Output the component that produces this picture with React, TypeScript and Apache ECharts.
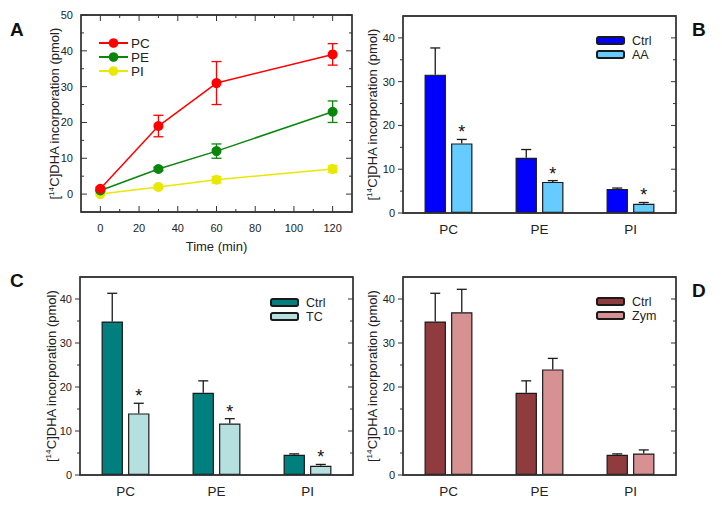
import React, { useEffect, useRef } from "react";
import * as echarts from "echarts";

// ---------- Panel A data ----------
const timePoints = [0, 30, 60, 120];
const pcMean = [1.5, 19, 31, 39];
const pcErr = [0.4, 3, 6, 3];
const peMean = [1, 7, 12, 23];
const peErr = [0.3, 0.5, 2, 3];
const piMean = [0, 2, 4, 7];
const piErr = [0.3, 0.5, 0.9, 1];
const timeTicks = [0, 20, 40, 60, 80, 100, 120];
const timeMinorTicks = [10, 30, 50, 70, 90, 110];
const yTicksA = [0, 10, 20, 30, 40, 50];
const yMinorTicksA = [5, 15, 25, 35, 45];

// ---------- Bar panels data ----------
const categories = ["PC", "PE", "PI"];
const barTicks = [0, 10, 20, 30, 40];
const barMinorTicks = [5, 15, 25, 35];

const bCtrl = [31.6, 12.6, 5.5];
const bCtrlTop = [37.7, 14.5, 5.7];
const bAA = [15.9, 7.1, 2.1];
const bAATop = [16.8, 7.4, 2.4];
const bStars = [1, 1, 1];

const cCtrl = [34.9, 18.7, 4.6];
const cCtrlTop = [41.3, 21.4, 4.8];
const cTC = [14.0, 11.7, 2.1];
const cTCTop = [16.3, 12.8, 2.4];
const cStars = [1, 1, 1];

const dCtrl = [34.9, 18.7, 4.6];
const dCtrlTop = [41.3, 21.4, 4.8];
const dZym = [37.0, 24.0, 4.9];
const dZymTop = [42.2, 26.5, 5.7];
const dStars = [0, 0, 0];

const FONT = "'Liberation Sans', Arial, sans-serif";
const TXT = "#222";
const FRAME = "#333333";
const BAR_FRAC = 0.235;
const GAP_FRAC = 0.24;
const PW = 361;
const PH = 254;

const yName = "[{sup|14}C]DHA incorporation (pmol)";
const yNameStyle = {
  fontFamily: FONT,
  fontSize: 13,
  color: TXT,
  rich: {
    sup: { fontSize: 8, fontFamily: FONT, color: TXT, padding: [0, 0, 6, 0] },
  },
};

function gridOpt(g: any) {
  return {
    ...g,
    outerBoundsMode: "none",
    containLabel: false,
    show: true,
    borderColor: FRAME,
    borderWidth: 1.3,
    backgroundColor: "transparent",
  };
}

function labelAxis(min: number, max: number, values: number[], margin: number, extra: any = {}) {
  return {
    type: "value",
    min,
    max,
    axisLine: { show: false, onZero: false },
    splitLine: { show: false },
    axisTick: { show: false },
    axisLabel: {
      show: true,
      customValues: values,
      fontFamily: FONT,
      fontSize: 11,
      color: TXT,
      margin,
    },
    ...extra,
  };
}

// Frame and tick marks, positioned through the chart's own scales (convertToPixel)
function frameGraphics(chart: any, grid: any, cfg: any) {
  const x0 = grid.left;
  const y0 = grid.top;
  const x1 = PW - grid.right;
  const y1 = PH - grid.bottom;
  const els: any[] = [
    {
      type: "rect",
      shape: { x: x0, y: y0, width: x1 - x0, height: y1 - y0 },
      style: { fill: "none", stroke: FRAME, lineWidth: 1.3 },
      z: 100,
      silent: true,
    },
  ];
  const st = { stroke: FRAME, lineWidth: 1 };
  const line = (a: number, b: number, c: number, d: number) =>
    els.push({ type: "line", shape: { x1: a, y1: b, x2: c, y2: d }, style: st, z: 100, silent: true });
  const addX = (vals: number[], len: number) =>
    vals.forEach((v) => {
      const px = chart.convertToPixel({ xAxisIndex: 0 }, v);
      line(px, y1, px, y1 - len);
      line(px, y0, px, y0 + len);
    });
  const addY = (vals: number[], len: number) =>
    vals.forEach((v) => {
      const py = chart.convertToPixel({ yAxisIndex: 0 }, v);
      line(x0, py, cfg.leftOutside ? x0 - len : x0 + len, py);
      line(x1, py, x1 - len, py);
    });
  addX(cfg.xMajor, 6);
  addX(cfg.xMinor, 3);
  addY(cfg.yMajor, cfg.leftOutside ? 5 : 6);
  addY(cfg.yMinor, 3);
  return els;
}

function lineErrRender(color: string) {
  return (params: any, api: any) => {
    const x = api.value(0);
    const lo = api.value(1);
    const hi = api.value(2);
    const pHi = api.coord([x, hi]);
    const pLo = api.coord([x, lo]);
    const hw = 5;
    const st = { stroke: color, lineWidth: 1.3 };
    return {
      type: "group",
      children: [
        { type: "line", shape: { x1: pHi[0], y1: pHi[1], x2: pLo[0], y2: pLo[1] }, style: st },
        { type: "line", shape: { x1: pHi[0] - hw, y1: pHi[1], x2: pHi[0] + hw, y2: pHi[1] }, style: st },
        { type: "line", shape: { x1: pLo[0] - hw, y1: pLo[1], x2: pLo[0] + hw, y2: pLo[1] }, style: st },
      ],
    };
  };
}

const gridA = { left: 81, right: 9, top: 15, bottom: 42 };

function buildA() {
  const groups = [
    { name: "PC", mean: pcMean, err: pcErr, color: "#ff0000" },
    { name: "PE", mean: peMean, err: peErr, color: "#0a870a" },
    { name: "PI", mean: piMean, err: piErr, color: "#e8e800" },
  ];
  const series: any[] = [];
  groups.forEach((g) => {
    series.push({
      type: "custom",
      name: g.name + "-err",
      renderItem: lineErrRender(g.color),
      data: timePoints.map((t, i) => [t, g.mean[i] - g.err[i], g.mean[i] + g.err[i]]),
      encode: { x: 0, y: [1, 2] },
      z: 2,
      silent: true,
    });
  });
  groups.forEach((g, k) => {
    series.push({
      type: "line",
      name: g.name,
      data: timePoints.map((t, i) => [t, g.mean[i]]),
      symbol: "circle",
      symbolSize: 10,
      lineStyle: { color: g.color, width: 1.5 },
      itemStyle: { color: g.color },
      z: 3 + (2 - k),
    });
  });
  return {
    animation: false,
    grid: gridOpt(gridA),
    xAxis: labelAxis(-10, 130, timeTicks, 10, {
      position: "bottom",
      name: "Time (min)",
      nameLocation: "middle",
      nameGap: 28,
      nameTextStyle: { fontFamily: FONT, fontSize: 13, color: TXT },
    }),
    yAxis: labelAxis(-5, 50, yTicksA, 8, {
      position: "left",
      name: yName,
      nameLocation: "middle",
      nameGap: 20,
      nameMoveOverlap: false,
      nameTextStyle: yNameStyle,
    }),
    legend: {
      data: ["PC", "PE", "PI"],
      orient: "vertical",
      left: 98,
      top: 36,
      padding: 0,
      itemWidth: 29,
      itemHeight: 12,
      itemGap: 0,
      textStyle: { fontFamily: FONT, fontSize: 13.5, color: TXT, padding: [0, 0, 0, -2] },
    },
    series,
  };
}

function barErrRender(sign: number) {
  return (params: any, api: any) => {
    const ci = api.value(0);
    const v = api.value(1);
    const top = api.value(2);
    const star = api.value(3);
    const band = api.size([1, 0])[0];
    const w = band * BAR_FRAC;
    const off = (sign * (w + w * GAP_FRAC)) / 2;
    const pv = api.coord([ci, v]);
    const pt = api.coord([ci, top]);
    const x = pv[0] + off;
    const hw = 5;
    const st = { stroke: "#1a1a1a", lineWidth: 1.3 };
    const children: any[] = [
      { type: "line", shape: { x1: x, y1: pv[1], x2: x, y2: pt[1] }, style: st },
      { type: "line", shape: { x1: x - hw, y1: pt[1], x2: x + hw, y2: pt[1] }, style: st },
    ];
    if (star) {
      children.push({
        type: "text",
        x: x,
        y: pt[1] + 2,
        style: {
          text: "*",
          fontFamily: FONT,
          fontSize: 18,
          fill: "#111",
          align: "center",
          verticalAlign: "bottom",
        },
      });
    }
    return { type: "group", children };
  };
}

function buildBar(cfg: any) {
  const { grid, ctrl, ctrlTop, trt, trtTop, stars, names, colors, legendPos, nameGap } = cfg;
  const mk = (vals: number[], tops: number[], st: number[] | null) =>
    categories.map((c, i) => [i, vals[i], tops[i], st ? st[i] : 0]);
  return {
    animation: false,
    grid: gridOpt(grid),
    xAxis: {
      type: "category",
      data: categories,
      position: "bottom",
      axisLine: { show: false, onZero: false },
      axisTick: { show: false },
      axisLabel: { fontFamily: FONT, fontSize: 13.5, color: TXT, margin: 9 },
      splitLine: { show: false },
    },
    yAxis: labelAxis(0, 45, barTicks, 8, {
      position: "left",
      name: yName,
      nameLocation: "middle",
      nameGap,
      nameMoveOverlap: false,
      nameTextStyle: yNameStyle,
    }),
    legend: {
      data: names,
      orient: "vertical",
      left: legendPos[0],
      top: legendPos[1],
      padding: 0,
      itemWidth: 27,
      itemHeight: 7,
      itemGap: 1,
      textStyle: { fontFamily: FONT, fontSize: 12.5, color: TXT, padding: [0, 0, 0, 3] },
    },
    series: [
      {
        type: "bar",
        name: names[0],
        data: ctrl,
        barWidth: BAR_FRAC * 100 + "%",
        barGap: GAP_FRAC * 100 + "%",
        itemStyle: { color: colors[0], borderColor: "#1a1a1a", borderWidth: 1.2 },
        z: 2,
      },
      {
        type: "bar",
        name: names[1],
        data: trt,
        barWidth: BAR_FRAC * 100 + "%",
        barGap: GAP_FRAC * 100 + "%",
        itemStyle: { color: colors[1], borderColor: "#1a1a1a", borderWidth: 1.2 },
        z: 2,
      },
      {
        type: "custom",
        renderItem: barErrRender(-1),
        data: mk(ctrl, ctrlTop, null),
        encode: { x: 0, y: [1, 2] },
        z: 3,
        silent: true,
      },
      {
        type: "custom",
        renderItem: barErrRender(1),
        data: mk(trt, trtTop, stars),
        encode: { x: 0, y: [1, 2] },
        z: 3,
        silent: true,
      },
    ],
  };
}

function Panel({
  left,
  top,
  build,
  grid,
  ticks,
  letter,
}: {
  left: number;
  top: number;
  build: () => any;
  grid: any;
  ticks: any;
  letter: any;
}) {
  const ref = useRef<HTMLDivElement>(null);
  useEffect(() => {
    if (!ref.current) return;
    const chart = echarts.init(ref.current, undefined, { renderer: "svg" });
    chart.setOption(build());
    const els = frameGraphics(chart, grid, ticks);
    els.push({
      type: "text",
      left: letter.x,
      top: letter.y,
      z: 100,
      style: { text: letter.t, fontFamily: FONT, fontSize: 19, fontWeight: "bold", fill: "#111" },
    });
    chart.setOption({ graphic: els });
    return () => chart.dispose();
  }, []);
  return <div ref={ref} style={{ position: "absolute", left, top, width: PW, height: PH }} />;
}

const gridB = { left: 42, right: 46, top: 16, bottom: 41 };
const gridC = { left: 80, right: 8, top: 23, bottom: 33 };
const gridD = { left: 42, right: 46, top: 23, bottom: 33 };
const tickCfgA = { xMajor: timeTicks, xMinor: timeMinorTicks, yMajor: yTicksA, yMinor: yMinorTicksA, leftOutside: false };
const tickCfgB = { xMajor: [], xMinor: [], yMajor: barTicks, yMinor: barMinorTicks, leftOutside: true };
const tickCfgC = { xMajor: [], xMinor: [], yMajor: barTicks, yMinor: barMinorTicks, leftOutside: true };
const tickCfgD = { xMajor: [], xMinor: [], yMajor: barTicks, yMinor: barMinorTicks, leftOutside: true };

export default function App() {
  return (
    <div
      style={{
        position: "absolute",
        left: 0,
        top: 0,
        width: 722,
        height: 508,
        background: "#ffffff",
        overflow: "hidden",
      }}
    >
      <Panel left={0} top={0} build={buildA} grid={gridA} ticks={tickCfgA} letter={{ t: "A", x: 10, y: 20 }} />
      <Panel
        left={361}
        top={0}
        grid={gridB}
        ticks={tickCfgB}
        letter={{ t: "B", x: 331, y: 20 }}
        build={() =>
          buildBar({
            grid: gridB,
            ctrl: bCtrl,
            ctrlTop: bCtrlTop,
            trt: bAA,
            trtTop: bAATop,
            stars: bStars,
            names: ["Ctrl", "AA"],
            colors: ["#0000ff", "#66ccff"],
            legendPos: [235, 34],
            nameGap: 24,
          })
        }
      />
      <Panel
        left={0}
        top={254}
        grid={gridC}
        ticks={tickCfgC}
        letter={{ t: "C", x: 10, y: 17 }}
        build={() =>
          buildBar({
            grid: gridC,
            ctrl: cCtrl,
            ctrlTop: cCtrlTop,
            trt: cTC,
            trtTop: cTCTop,
            stars: cStars,
            names: ["Ctrl", "TC"],
            colors: ["#007f7f", "#b6e0e0"],
            legendPos: [270, 42],
            nameGap: 22,
          })
        }
      />
      <Panel
        left={361}
        top={254}
        grid={gridD}
        ticks={tickCfgD}
        letter={{ t: "D", x: 331, y: 27 }}
        build={() =>
          buildBar({
            grid: gridD,
            ctrl: dCtrl,
            ctrlTop: dCtrlTop,
            trt: dZym,
            trtTop: dZymTop,
            stars: dStars,
            names: ["Ctrl", "Zym"],
            colors: ["#903c3e", "#d89192"],
            legendPos: [235, 41],
            nameGap: 24,
          })
        }
      />
    </div>
  );
}
